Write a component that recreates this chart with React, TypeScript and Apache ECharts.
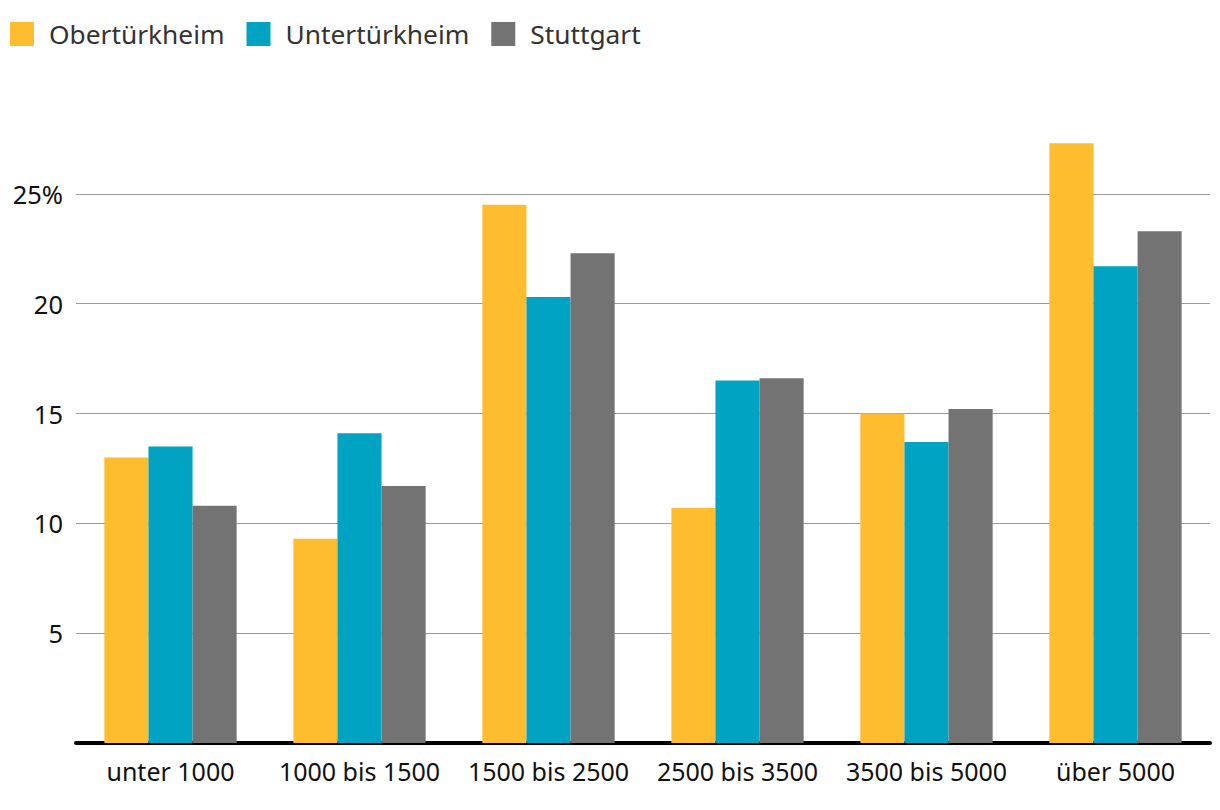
import React, { useEffect, useRef } from "react";
import * as echarts from "echarts";

const categories = ["unter 1000", "1000 bis 1500", "1500 bis 2500", "2500 bis 3500", "3500 bis 5000", "über 5000"];
const obertuerkheim = [13.0, 9.3, 24.5, 10.7, 15.0, 27.3];
const untertuerkheim = [13.5, 14.1, 20.3, 16.5, 13.7, 21.7];
const stuttgart = [10.8, 11.7, 22.3, 16.6, 15.2, 23.3];
const seriesNames = ["Obertürkheim", "Untertürkheim", "Stuttgart"];
const colors = ["#FDBD2E", "#00A3C2", "#737373"];

const FONT = "'Noto Sans', sans-serif";

export default function App() {
  const ref = useRef<HTMLDivElement>(null);
  useEffect(() => {
    if (!ref.current) return;
    const chart = echarts.init(ref.current, undefined, { renderer: "svg" });
    const data = [obertuerkheim, untertuerkheim, stuttgart];
    chart.setOption({
      animation: false,
      color: colors,
      textStyle: { fontFamily: FONT },
      legend: {
        left: 5,
        top: 16,
        itemWidth: 24,
        itemHeight: 24,
        itemGap: 22,
        icon: "rect",
        textStyle: { fontSize: 26.3, color: "#333", fontFamily: FONT, padding: [0, 0, 0, 10] },
        data: seriesNames,
      },
      grid: { left: 76, right: 10, top: 84, bottom: 67, containLabel: false },
      xAxis: {
        type: "category",
        data: categories,
        axisLine: { show: true, lineStyle: { color: "#000", width: 4 } },
        axisTick: { show: false },
        axisLabel: { fontSize: 25, color: "#111", margin: 15, fontFamily: FONT, interval: 0 },
      },
      yAxis: {
        type: "value",
        min: 0,
        max: 30,
        interval: 5,
        axisLine: { show: false },
        axisTick: { show: false },
        splitLine: { show: true, showMaxLine: false, lineStyle: { color: "#999", width: 1 } },
        axisLabel: {
          fontSize: 25.5,
          color: "#111",
          margin: 13,
          fontFamily: FONT,
          showMinLabel: false,
          showMaxLabel: false,
          formatter: (v: number) => (v === 0 || v === 30 ? "" : v === 25 ? "25%" : String(v)),
        },
      },
      series: data.map((d, i) => ({
        name: seriesNames[i],
        type: "bar",
        data: d,
        barGap: "0%",
        barCategoryGap: "30%",
        itemStyle: { color: colors[i] },
      })),
    });
    return () => chart.dispose();
  }, []);
  return <div ref={ref} style={{ position: "absolute", left: 0, top: 0, width: 1220, height: 810 }} />;
}
